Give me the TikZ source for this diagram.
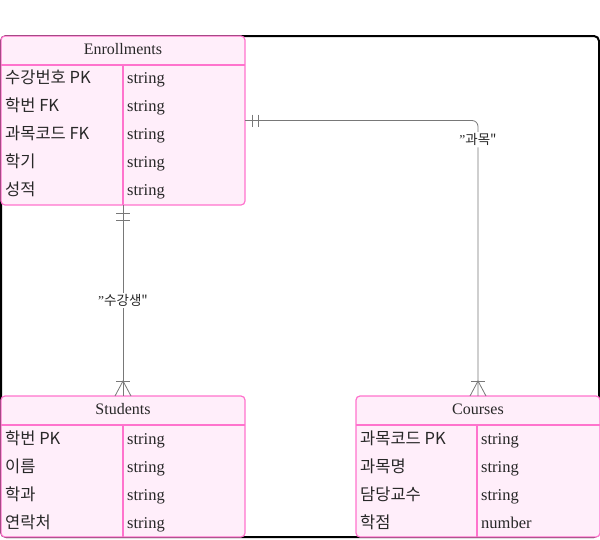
\documentclass[tikz,border=0pt]{standalone}
\usepackage{fontspec}
\setmainfont{Liberation Serif}
\newfontfamily\kr{Noto Sans CJK KR}
\usetikzlibrary{positioning}
\definecolor{entfill}{RGB}{255,238,250}
\definecolor{entline}{RGB}{255,115,205}
\definecolor{relline}{RGB}{120,120,120}
\definecolor{inktext}{RGB}{40,40,40}

\begin{document}
\begin{tikzpicture}[x=1pt,y=-1pt,
	entity/.style={shape=rectangle,draw=entline,fill=entfill,rounded corners=4pt,line width=1.2pt,outer sep=0pt,inner sep=0pt,minimum width=244pt},
	divider/.style={draw=entline,line width=1.2pt},
	title/.style={text=inktext,font=\fontsize{16}{19}\selectfont},
	attr/.style={anchor=base west,text=inktext,inner sep=0pt,font=\fontsize{16.5}{19}\selectfont},
	rel/.style={draw=relline,line width=0.8pt},
	relname/.style={fill=white,inner sep=1.5pt,text=inktext,font=\fontsize{13.5}{15}\selectfont}]
		\useasboundingbox (0,0) rectangle (600,539);
		% outer frame
		\draw[line width=2pt,rounded corners=5pt] (1,36) rectangle (599,537);
		
		% create the nodes
		\node (enr) [entity, minimum height=169pt, anchor=north west] at (1,36) {};
		\node (stu) [entity, minimum height=141pt, below=191pt of enr] {};
		\node (crs) [entity, minimum height=141pt, right=111pt of stu] {};
		
		% Enrollments
		\node (enr-title) [title] at ([yshift=-13pt]enr.north) {Enrollments};
		\draw[divider] ([yshift=-29pt]enr.north west) -- ([yshift=-29pt]enr.north east);
		\draw[divider] ([xshift=122pt,yshift=-29pt]enr.north west) -- ([xshift=122pt]enr.south west);
		\foreach \k/\t [count=\i] in {{\kr{수강번호} PK}/string,{\kr{학번} FK}/string,{\kr{과목코드} FK}/string,{\kr{학기}}/string,{\kr{성적}}/string}{
			\node (enr-k\i) [attr] at ([xshift=4pt,yshift=-(19+28*\i)*1pt]enr.north west) {\k};
			\node (enr-t\i) [attr] at ([xshift=126pt,yshift=-(19+28*\i)*1pt]enr.north west) {\t};
		}
		
		% Students
		\node (stu-title) [title] at ([yshift=-13pt]stu.north) {Students};
		\draw[divider] ([yshift=-29pt]stu.north west) -- ([yshift=-29pt]stu.north east);
		\draw[divider] ([xshift=122pt,yshift=-29pt]stu.north west) -- ([xshift=122pt]stu.south west);
		\foreach \k/\t [count=\i] in {{\kr{학번} PK}/string,{\kr{이름}}/string,{\kr{학과}}/string,{\kr{연락처}}/string}{
			\node (stu-k\i) [attr] at ([xshift=4pt,yshift=-(20+28*\i)*1pt]stu.north west) {\k};
			\node (stu-t\i) [attr] at ([xshift=126pt,yshift=-(20+28*\i)*1pt]stu.north west) {\t};
		}
		
		% Courses
		\node (crs-title) [title] at ([yshift=-13pt]crs.north) {Courses};
		\draw[divider] ([yshift=-29pt]crs.north west) -- ([yshift=-29pt]crs.north east);
		\draw[divider] ([xshift=121pt,yshift=-29pt]crs.north west) -- ([xshift=121pt]crs.south west);
		\foreach \k/\t [count=\i] in {{\kr{과목코드} PK}/string,{\kr{과목명}}/string,{\kr{담당교수}}/string,{\kr{학점}}/number}{
			\node (crs-k\i) [attr] at ([xshift=4pt,yshift=-(20+28*\i)*1pt]crs.north west) {\k};
			\node (crs-t\i) [attr] at ([xshift=125pt,yshift=-(20+28*\i)*1pt]crs.north west) {\t};
		}
		
		% connect the nodes
		\draw[rel, rounded corners=6pt] (enr.east) -| (crs.north) node (rel-crs) [relname, pos=0.535] {\symbol{34}\kr{과목}\symbol{34}};
		\draw[rel] (enr.south) -- (stu.north) node (rel-stu) [relname, midway] {\symbol{34}\kr{수강생}\symbol{34}};
		
		% one and only one
		\draw[rel] ([xshift=7pt,yshift=6pt]enr.east) -- ([xshift=7pt,yshift=-6pt]enr.east);
		\draw[rel] ([xshift=13pt,yshift=6pt]enr.east) -- ([xshift=13pt,yshift=-6pt]enr.east);
		\draw[rel] ([xshift=-7pt,yshift=-8pt]enr.south) -- ([xshift=7pt,yshift=-8pt]enr.south);
		\draw[rel] ([xshift=-7pt,yshift=-15pt]enr.south) -- ([xshift=7pt,yshift=-15pt]enr.south);
		
		% one or many
		\draw[rel] ([xshift=-7pt,yshift=15pt]stu.north) -- ([xshift=7pt,yshift=15pt]stu.north);
		\draw[rel] ([xshift=-8pt]stu.north) -- ([yshift=15pt]stu.north) -- ([xshift=8pt]stu.north);
		\draw[rel] ([xshift=-7pt,yshift=15pt]crs.north) -- ([xshift=7pt,yshift=15pt]crs.north);
		\draw[rel] ([xshift=-8pt]crs.north) -- ([yshift=15pt]crs.north) -- ([xshift=8pt]crs.north);
		
	\end{tikzpicture}
\end{document}
